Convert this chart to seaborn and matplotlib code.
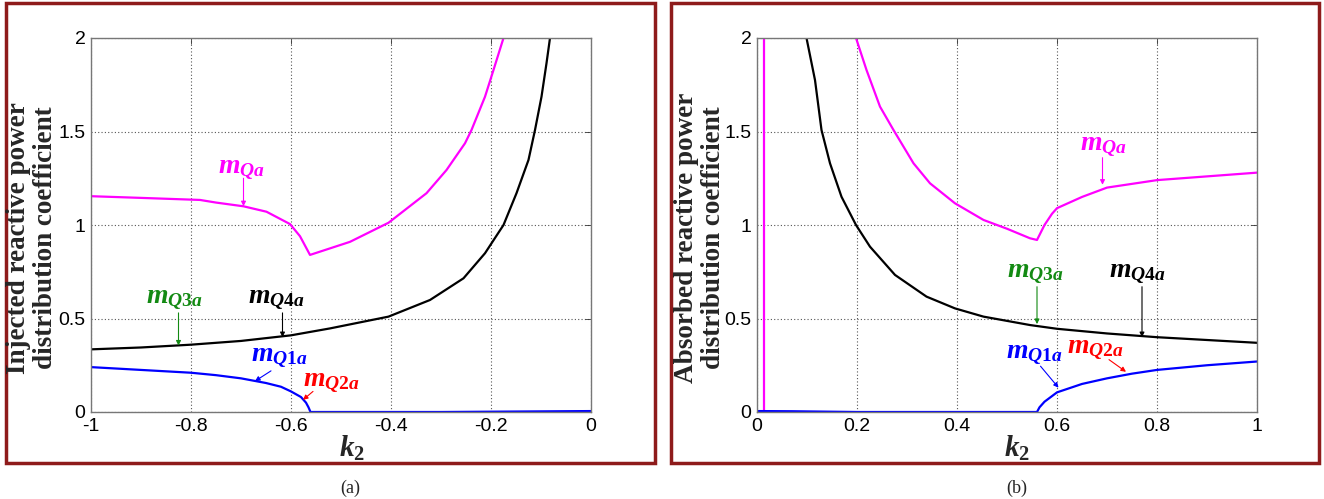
import numpy as np
import pandas as pd
import seaborn as sns
import matplotlib
matplotlib.use("Agg")
import matplotlib.pyplot as plt
from matplotlib.patches import Rectangle

# ---------------- data ----------------
# Panel (a): k2 in [-1, 0]
a_k_qa = [-1, -0.9, -0.782, -0.75, -0.695, -0.649, -0.602, -0.582, -0.562, -0.522, -0.482,
          -0.405, -0.329, -0.289, -0.252, -0.239, -0.212, -0.195, -0.175]
a_m_qa = [1.154, 1.145, 1.134, 1.12, 1.10, 1.071, 1.005, 0.94, 0.84, 0.875, 0.91,
          1.012, 1.17, 1.294, 1.437, 1.508, 1.686, 1.829, 2.0]

a_k_q4 = [-1, -0.9, -0.8, -0.7, -0.6, -0.522, -0.405, -0.322, -0.255, -0.212, -0.175,
          -0.149, -0.125, -0.112, -0.099, -0.089, -0.082]
a_m_q4 = [0.335, 0.345, 0.36, 0.38, 0.41, 0.447, 0.51, 0.599, 0.715, 0.849, 1.0,
          1.17, 1.348, 1.508, 1.686, 1.865, 2.0]

a_k_q1 = [-1, -0.9, -0.8, -0.75, -0.7, -0.65, -0.62, -0.6, -0.58, -0.57, -0.565, -0.561,
          -0.5, -0.3, 0]
a_m_q1 = [0.24, 0.225, 0.21, 0.197, 0.18, 0.155, 0.135, 0.11, 0.08, 0.05, 0.025, 0.0,
          0.0, 0.0, 0.005]

# Panel (b): k2 in [0, 1]
b_k_qa_asym = [0.013, 0.013]
b_m_qa_asym = [0.0, 2.05]

b_k_qa = [0.198, 0.219, 0.246, 0.273, 0.313, 0.346, 0.396, 0.453, 0.5, 0.546, 0.56, 0.575,
          0.59, 0.6, 0.65, 0.7, 0.8, 0.9, 1.0]
b_m_qa = [2.0, 1.829, 1.633, 1.508, 1.33, 1.223, 1.116, 1.027, 0.98, 0.929, 0.92, 1.0,
          1.06, 1.09, 1.15, 1.2, 1.24, 1.26, 1.28]

b_k_q4 = [0.099, 0.116, 0.129, 0.146, 0.169, 0.198, 0.226, 0.276, 0.339, 0.396, 0.453,
          0.546, 0.6, 0.7, 0.8, 0.9, 1.0]
b_m_q4 = [2.0, 1.775, 1.508, 1.33, 1.151, 1.0, 0.884, 0.733, 0.617, 0.554, 0.51,
          0.465, 0.445, 0.42, 0.40, 0.385, 0.37]

b_k_q1 = [0, 0.07, 0.2, 0.4, 0.56, 0.565, 0.575, 0.59, 0.6, 0.65, 0.7, 0.75, 0.8, 0.9, 1.0]
b_m_q1 = [0.005, 0.004, 0.0, 0.0, 0.0, 0.025, 0.055, 0.085, 0.105, 0.15, 0.18, 0.205,
          0.225, 0.25, 0.27]

x_ticks_a = [-1, -0.8, -0.6, -0.4, -0.2, 0]
x_ticklabels_a = ["-1", "-0.8", "-0.6", "-0.4", "-0.2", "0"]
x_ticks_b = [0, 0.2, 0.4, 0.6, 0.8, 1]
x_ticklabels_b = ["0", "0.2", "0.4", "0.6", "0.8", "1"]
y_ticks = [0, 0.5, 1, 1.5, 2]
y_ticklabels = ["0", "0.5", "1", "1.5", "2"]

ylabel_a = "Injected reactive power\ndistribution coefficient"
ylabel_b = "Absorbed reactive power\ndistribution coefficient"

# annotation labels: (text, color, text pos, arrow tail, arrow tip)
lab_qa = r"$\mathit{m}_{\mathit{Qa}}$"
lab_q1 = r"$\mathit{m}_{\mathit{Q1a}}$"
lab_q2 = r"$\mathit{m}_{\mathit{Q2a}}$"
lab_q3 = r"$\mathit{m}_{\mathit{Q3a}}$"
lab_q4 = r"$\mathit{m}_{\mathit{Q4a}}$"

C_MAG, C_BLK, C_BLU, C_GRN, C_RED = "#FF00FF", "#000000", "#0000FF", "#138A13", "#FF0000"

ann_a = [
    (lab_qa, C_MAG, (-0.745, 1.28), (-0.695, 1.25), (-0.695, 1.10)),
    (lab_q3, C_GRN, (-0.89, 0.58), (-0.825, 0.53), (-0.825, 0.355)),
    (lab_q4, C_BLK, (-0.685, 0.58), (-0.617, 0.53), (-0.617, 0.40)),
    (lab_q1, C_BLU, (-0.68, 0.27), (-0.64, 0.22), (-0.672, 0.165)),
    (lab_q2, C_RED, (-0.576, 0.137), (-0.556, 0.11), (-0.576, 0.065)),
]
ann_b = [
    (lab_qa, C_MAG, (0.645, 1.40), (0.691, 1.36), (0.691, 1.215)),
    (lab_q3, C_GRN, (0.50, 0.72), (0.56, 0.67), (0.56, 0.47)),
    (lab_q4, C_BLK, (0.704, 0.72), (0.77, 0.67), (0.77, 0.40)),
    (lab_q1, C_BLU, (0.497, 0.29), (0.567, 0.245), (0.603, 0.13)),
    (lab_q2, C_RED, (0.62, 0.315), (0.704, 0.28), (0.738, 0.215)),
]

# ---------------- style ----------------
sns.set_style("white")
plt.rcParams["font.family"] = ["Liberation Sans", "DejaVu Sans"]
plt.rcParams["mathtext.fontset"] = "custom"
plt.rcParams["mathtext.it"] = "Liberation Serif:italic:bold"
plt.rcParams["mathtext.rm"] = "Liberation Serif:bold"
plt.rcParams["mathtext.bf"] = "Liberation Serif:bold"

fig = plt.figure(figsize=(13.24, 4.99), dpi=100)
ax_a = fig.add_axes([91 / 1324, 1 - 412 / 499, 500 / 1324, 374 / 499])
ax_b = fig.add_axes([757 / 1324, 1 - 412 / 499, 500 / 1324, 374 / 499])


def draw_series(ax, xs, ys, color):
    df = pd.DataFrame({"k2": xs, "m": ys})
    sns.lineplot(data=df, x="k2", y="m", ax=ax, color=color, lw=1.6,
                 sort=False, estimator=None)


def style_axes(ax, xlim, xt, xtl):
    ax.set_xlim(*xlim)
    ax.set_ylim(0, 2)
    ax.set_xticks(xt)
    ax.set_xticklabels(xtl)
    ax.set_yticks(y_ticks)
    ax.set_yticklabels(y_ticklabels)
    ax.grid(True, linestyle=(0, (1, 2)), color="#555555", lw=0.8)
    ax.tick_params(direction="in", length=4, width=0.6, labelsize=14, pad=4,
                   colors="#333333", labelcolor="black", top=True, right=True)
    for s in ax.spines.values():
        s.set_color("#777777")
        s.set_linewidth(1.0)
    ax.set_xlabel("")
    ax.set_ylabel("")


def annotate(ax, anns):
    for txt, col, tpos, tail, tip in anns:
        ax.text(tpos[0], tpos[1], txt, color=col, fontsize=20, ha="left",
                va="baseline", zorder=5)
        ax.annotate("", xy=tip, xytext=tail,
                    arrowprops=dict(arrowstyle="-|>", color=col, lw=0.8,
                                    mutation_scale=7, shrinkA=0, shrinkB=0))


draw_series(ax_a, a_k_qa, a_m_qa, C_MAG)
draw_series(ax_a, a_k_q4, a_m_q4, C_BLK)
draw_series(ax_a, a_k_q1, a_m_q1, C_BLU)
style_axes(ax_a, (-1, 0), x_ticks_a, x_ticklabels_a)
annotate(ax_a, ann_a)

draw_series(ax_b, b_k_qa_asym, b_m_qa_asym, C_MAG)
draw_series(ax_b, b_k_qa, b_m_qa, C_MAG)
draw_series(ax_b, b_k_q4, b_m_q4, C_BLK)
draw_series(ax_b, b_k_q1, b_m_q1, C_BLU)
style_axes(ax_b, (0, 1), x_ticks_b, x_ticklabels_b)
annotate(ax_b, ann_b)

# y labels (bold serif, two lines)
fig.text(32 / 1324, 1 - 238 / 499, ylabel_a, rotation=90, ha="center", va="center",
         multialignment="center", family="Liberation Serif", fontweight="bold",
         fontsize=19.5, linespacing=1.1)
fig.text(700 / 1324, 1 - 238 / 499, ylabel_b, rotation=90, ha="center", va="center",
         multialignment="center", family="Liberation Serif", fontweight="bold",
         fontsize=19.5, linespacing=1.1, zorder=10)

# x labels
for xc in (352, 1017):
    fig.text(xc / 1324, 1 - 448 / 499, r"$\mathit{k}_{\mathit{2}}$", ha="center",
             va="center", fontsize=21)

# panel captions
fig.text(350 / 1324, 1 - 488 / 499, "(a)", ha="center", va="center",
         family="Liberation Serif", fontsize=13)
fig.text(1017 / 1324, 1 - 488 / 499, "(b)", ha="center", va="center",
         family="Liberation Serif", fontsize=13)

# dark-red frames around each panel
frame_col = "#8E1B1B"
fig.patches.append(Rectangle((6 / 1324, 1 - 463 / 499), 649 / 1324, 460 / 499,
                             transform=fig.transFigure, fill=False, ec=frame_col,
                             lw=2.5, zorder=0))
fig.patches.append(Rectangle((671 / 1324, 1 - 463 / 499), 648 / 1324, 460 / 499,
                             transform=fig.transFigure, fill=False, ec=frame_col,
                             lw=2.5, zorder=0))

fig.savefig("out.png", dpi=100)
